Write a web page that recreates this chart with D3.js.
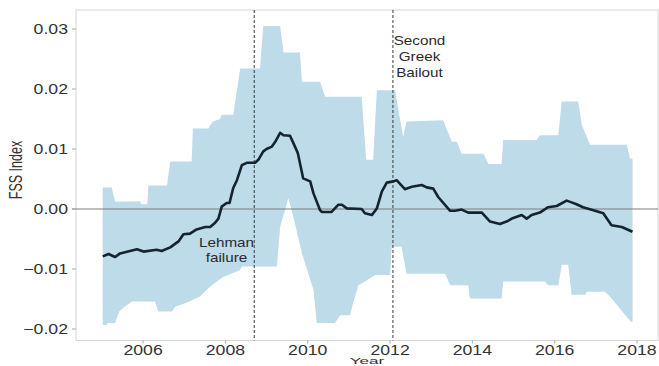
<!DOCTYPE html>
<html>
<head>
<meta charset="utf-8">
<script src="https://cdn.jsdelivr.net/npm/d3@7/dist/d3.min.js"></script>
<style>
  html, body { margin: 0; padding: 0; background: #fff; }
  svg { display: block; }
  text { font-family: "Liberation Sans", Arial, Helvetica, sans-serif; }
</style>
</head>
<body>
<svg id="chart" width="659" height="366"></svg>
<script>
// FSS index (monthly, smoothed) with its confidence band
const indexYears = [2005.02, 2005.16, 2005.32, 2005.40, 2005.44, 2005.85, 2006.01, 2006.33, 2006.45, 2006.66,
  2006.86, 2006.98, 2007.14, 2007.30, 2007.51, 2007.63, 2007.75, 2007.83, 2007.91, 2008.03,
  2008.10, 2008.19, 2008.28, 2008.40, 2008.52, 2008.72, 2008.80, 2008.92, 2009.00, 2009.13,
  2009.21, 2009.33, 2009.41, 2009.57, 2009.69, 2009.76, 2009.89, 2010.06, 2010.14, 2010.30,
  2010.34, 2010.58, 2010.74, 2010.83, 2010.95, 2011.31, 2011.39, 2011.56, 2011.68, 2011.80,
  2011.92, 2012.08, 2012.16, 2012.36, 2012.53, 2012.77, 2012.89, 2013.05, 2013.17, 2013.46,
  2013.58, 2013.74, 2013.90, 2014.23, 2014.43, 2014.67, 2014.83, 2014.96, 2015.20, 2015.32,
  2015.44, 2015.64, 2015.84, 2016.05, 2016.29, 2016.41, 2016.53, 2016.69, 2016.94, 2017.18,
  2017.38, 2017.63, 2017.89];
const indexValues = [-0.0079, -0.0075, -0.0080, -0.0076, -0.0074, -0.0067, -0.0071, -0.0068, -0.0070, -0.0064,
  -0.0054, -0.0042, -0.0041, -0.0034, -0.0030, -0.0030, -0.0023, -0.0016, 0.0004, 0.0010,
  0.0010, 0.0035, 0.0048, 0.0073, 0.0077, 0.0077, 0.0082, 0.0096, 0.0100, 0.0104,
  0.0112, 0.0127, 0.0123, 0.0122, 0.0104, 0.0093, 0.0051, 0.0046, 0.0026, -0.0002,
  -0.0005, -0.0005, 0.0007, 0.0007, 0.0001, 0.0000, -0.0007, -0.0010, 0.0001, 0.0029,
  0.0044, 0.0046, 0.0048, 0.0033, 0.0037, 0.0040, 0.0036, 0.0034, 0.0020, -0.0003,
  -0.0003, -0.0001, -0.0006, -0.0006, -0.0021, -0.0025, -0.0021, -0.0016, -0.0010, -0.0016,
  -0.0010, -0.0006, 0.0003, 0.0005, 0.0014, 0.0011, 0.0008, 0.0003, -0.0002, -0.0007,
  -0.0027, -0.0030, -0.0038];

// Upper edge of the band
const upperYears = [2005.02, 2005.24, 2005.32, 2005.93, 2005.95, 2006.10, 2006.13, 2006.58, 2006.66, 2007.18,
  2007.21, 2007.59, 2007.63, 2007.70, 2007.87, 2007.91, 2008.19, 2008.36, 2008.84, 2008.92,
  2009.33, 2009.41, 2009.81, 2009.86, 2010.30, 2010.42, 2011.31, 2011.42, 2011.59, 2011.68,
  2012.12, 2012.32, 2012.40, 2013.29, 2013.50, 2013.62, 2013.74, 2014.27, 2014.39, 2014.71,
  2014.75, 2015.56, 2015.64, 2016.09, 2016.17, 2016.57, 2016.66, 2016.86, 2017.75, 2017.83,
  2017.89];
const upperValues = [0.0036, 0.0036, 0.0012, 0.0013, 0.0008, 0.0008, 0.0039, 0.0039, 0.0079, 0.0079,
  0.0134, 0.0134, 0.0140, 0.0146, 0.0150, 0.0157, 0.0157, 0.0234, 0.0234, 0.0305,
  0.0305, 0.0261, 0.0261, 0.0212, 0.0212, 0.0187, 0.0187, 0.0082, 0.0082, 0.0198,
  0.0198, 0.0120, 0.0146, 0.0148, 0.0112, 0.0112, 0.0092, 0.0092, 0.0075, 0.0075,
  0.0115, 0.0115, 0.0123, 0.0123, 0.0179, 0.0179, 0.0140, 0.0107, 0.0107, 0.0084,
  0.0084];

// Lower edge of the band
const lowerYears = [2005.02, 2005.12, 2005.14, 2005.32, 2005.42, 2005.55, 2005.73, 2006.29, 2006.37, 2006.70,
  2006.78, 2007.10, 2007.38, 2007.63, 2007.95, 2008.35, 2008.40, 2009.25, 2009.33, 2009.53,
  2009.65, 2009.86, 2010.14, 2010.22, 2010.66, 2010.79, 2011.03, 2011.09, 2011.23, 2011.39,
  2011.64, 2012.00, 2012.04, 2012.28, 2012.40, 2013.34, 2013.46, 2013.90, 2013.94, 2014.71,
  2014.75, 2015.76, 2015.84, 2016.09, 2016.17, 2016.33, 2016.41, 2016.74, 2016.78, 2017.22,
  2017.34, 2017.85, 2017.89];
const lowerValues = [-0.0193, -0.0193, -0.0190, -0.0190, -0.0171, -0.0163, -0.0154, -0.0154, -0.0171, -0.0171,
  -0.0163, -0.0155, -0.0146, -0.0129, -0.0113, -0.0102, -0.0096, -0.0096, -0.0030, 0.0018,
  -0.0013, -0.0074, -0.0135, -0.0190, -0.0190, -0.0177, -0.0177, -0.0160, -0.0127, -0.0121,
  -0.0110, -0.0110, -0.0063, -0.0063, -0.0108, -0.0108, -0.0127, -0.0127, -0.0149, -0.0149,
  -0.0121, -0.0121, -0.0127, -0.0127, -0.0093, -0.0093, -0.0143, -0.0143, -0.0138, -0.0138,
  -0.0146, -0.0188, -0.0188];

const xTicks = [2006, 2008, 2010, 2012, 2014, 2016, 2018];
const yTicks = [-0.02, -0.01, 0.00, 0.01, 0.02, 0.03];

// Event markers: date and label lines
const eventYears = [2008.70, 2012.07];
const eventLabels = [["Lehman", "failure"], ["Second", "Greek", "Bailout"]];

const xTitle = "Year";
const yTitle = "FSS Index";

// ---- layout ----
const panel = { left: 76, right: 658, top: 10, bottom: 340.5 };
const textStretch = 1.22;   // glyphs are drawn slightly wide

const svg = d3.select("#chart");

const x = d3.scaleLinear().domain([2004.37, 2018.51]).range([panel.left, panel.right]);
const y = d3.scaleLinear().domain([-0.02192, 0.03317]).range([panel.bottom, panel.top]);

const zip = (xs, vs) => xs.map((t, i) => ({ t, v: vs[i] }));
const indexData = zip(indexYears, indexValues);
const upperData = zip(upperYears, upperValues);
const lowerData = zip(lowerYears, lowerValues);

function stretchedText(sel, px, py, str, opts) {
  return sel.append("text")
    .attr("transform", `translate(${px},${py}) scale(${opts.stretch || textStretch},1)`)
    .attr("text-anchor", opts.anchor || "middle")
    .attr("font-size", opts.size)
    .attr("fill", opts.fill || "#333")
    .text(str);
}

// panel border
svg.append("rect")
  .attr("x", panel.left).attr("y", panel.top)
  .attr("width", panel.right - panel.left).attr("height", panel.bottom - panel.top)
  .attr("fill", "none").attr("stroke", "#d6d6d6").attr("stroke-width", 1);

// confidence band
const bandLine = d3.line().x(d => x(d.t)).y(d => y(d.v));
svg.append("path")
  .attr("d", bandLine(upperData.concat(lowerData.slice().reverse())) + "Z")
  .attr("fill", "#bddbe8")
  .attr("stroke", "none");

// zero reference line
svg.append("line")
  .attr("x1", panel.left - 4).attr("x2", panel.right)
  .attr("y1", y(0)).attr("y2", y(0))
  .attr("stroke", "#7f7f7f").attr("stroke-width", 1.2);

// event lines
svg.selectAll("line.event")
  .data(eventYears)
  .join("line")
  .attr("class", "event")
  .attr("x1", d => x(d)).attr("x2", d => x(d))
  .attr("y1", panel.top).attr("y2", panel.bottom)
  .attr("stroke", "#3a3a3a").attr("stroke-width", 1)
  .attr("stroke-dasharray", "3,2");

// index line
svg.append("path")
  .datum(indexData)
  .attr("d", d3.line().x(d => x(d.t)).y(d => y(d.v)))
  .attr("fill", "none")
  .attr("stroke", "#15232e")
  .attr("stroke-width", 2.6)
  .attr("stroke-linejoin", "round");

// y axis ticks and labels
const yAxis = svg.append("g");
yTicks.forEach(v => {
  yAxis.append("line")
    .attr("x1", panel.left - 4).attr("x2", panel.left)
    .attr("y1", y(v)).attr("y2", y(v))
    .attr("stroke", "#aaa").attr("stroke-width", 1);
  stretchedText(yAxis, panel.left - 8, y(v) + 5, d3.format(".2f")(v), { anchor: "end", size: 14.5 });
});

// x axis ticks and labels
const xAxis = svg.append("g");
xTicks.forEach(t => {
  xAxis.append("line")
    .attr("x1", x(t)).attr("x2", x(t))
    .attr("y1", panel.bottom).attr("y2", panel.bottom + 3)
    .attr("stroke", "#aaa").attr("stroke-width", 1);
  stretchedText(xAxis, x(t), panel.bottom + 14, String(t), { size: 14.5 });
});

// axis titles
stretchedText(svg, (panel.left + panel.right) / 2, 363.9, xTitle, { size: 9.8, stretch: 1.75 });
svg.append("text")
  .attr("transform", `translate(22,170) scale(1.4,1) rotate(-90)`)
  .attr("text-anchor", "middle")
  .attr("font-size", 12.5)
  .attr("fill", "#333")
  .text(yTitle);

// event annotations
const labelPos = [
  { cx: 226.5, top: 246.5 },
  { cx: 419.5, top: 45 }
];
eventLabels.forEach((lines, i) => {
  lines.forEach((s, j) => {
    stretchedText(svg, labelPos[i].cx, labelPos[i].top + j * 15.8, s, { size: 12.5, fill: "#2b2b2b" });
  });
});
</script>
</body>
</html>
